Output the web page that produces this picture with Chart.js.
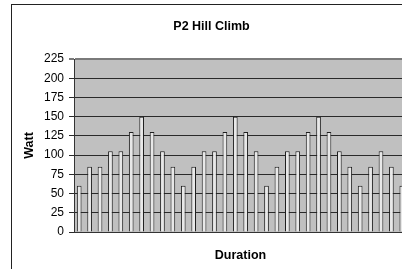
<!DOCTYPE html>
<html>
<head>
<meta charset="utf-8">
<script src="https://cdn.jsdelivr.net/npm/chart.js@4/dist/chart.umd.min.js"></script>
<style>
  html, body { margin: 0; padding: 0; background: #fff; overflow: hidden; }
  body { width: 402px; height: 269px; position: relative; }
  #frame { position: absolute; left: 11px; top: 4px; width: 500px; height: 400px; border: 1px solid #222; }
  #hillChart { position: absolute; left: 0; top: 0; }
</style>
</head>
<body>
<div id="frame"></div>
<canvas id="hillChart" width="412" height="275"></canvas>
<script>
const durations = ['1', '2', '3', '4', '5', '6', '7', '8', '9', '10', '11', '12', '13', '14', '15', '16',
  '17', '18', '19', '20', '21', '22', '23', '24', '25', '26', '27', '28', '29', '30', '31', '32'];
const watts = [60, 85, 85, 105, 105, 130, 150, 130, 105, 85, 60, 85, 105, 105, 130, 150,
  130, 105, 60, 85, 105, 105, 130, 150, 130, 105, 85, 60, 85, 105, 85, 60];
const wattTicks = [0, 25, 50, 75, 100, 125, 150, 175, 200, 225];

// grey plot area like the old Excel charts
const plotBackground = {
  id: 'plotBackground',
  beforeDraw(chart) {
    const { ctx, chartArea } = chart;
    ctx.save();
    ctx.fillStyle = '#c0c0c0';
    ctx.fillRect(chartArea.left, chartArea.top, chartArea.right - chartArea.left, chartArea.bottom - chartArea.top);
    ctx.restore();
  }
};

window.addEventListener('DOMContentLoaded', () => {
  Chart.defaults.font.family = '"Liberation Sans", Arial, sans-serif';
  Chart.defaults.color = '#000';

  new Chart(document.getElementById('hillChart'), {
    type: 'bar',
    data: {
      labels: durations,
      datasets: [{
        label: 'Watt',
        data: watts,
        backgroundColor: '#e8e8e8',
        borderColor: '#1e1e1e',
        borderWidth: 1,
        categoryPercentage: 1,
        barPercentage: 0.45
      }]
    },
    options: {
      responsive: false,
      animation: false,
      devicePixelRatio: 1,
      layout: { padding: { left: 16, right: 5, top: 0, bottom: 0 } },
      plugins: {
        legend: { display: false },
        tooltip: { enabled: false },
        title: {
          display: true,
          text: 'P2 Hill Climb',
          font: { size: 12.5, weight: 'bold' },
          padding: { top: 19, bottom: 25 }
        }
      },
      scales: {
        x: {
          grid: { display: false },
          border: { display: true, color: '#333', width: 1 },
          ticks: { display: false },
          title: {
            display: true,
            text: 'Duration',
            font: { size: 12.5, weight: 'bold' },
            padding: { top: 0, bottom: 12 }
          },
          afterFit(axis) { axis.height = 43; }
        },
        y: {
          min: 0,
          max: 225,
          afterBuildTicks(axis) { axis.ticks = wattTicks.map(v => ({ value: v })); },
          grid: {
            color: (c) => (c.tick && c.tick.value === 225 ? '#7a7a7a' : '#2a2a2a'),
            lineWidth: (c) => (c.tick && c.tick.value === 225 ? 2 : 1),
            tickLength: 5
          },
          border: { display: true, color: '#333', width: 1 },
          ticks: { font: { size: 12 }, padding: 5 },
          title: {
            display: true,
            text: 'Watt',
            font: { size: 12.5, weight: 'bold' },
            padding: { top: 6.5, bottom: 0 }
          },
          afterFit(axis) { axis.width = 58; }
        }
      }
    },
    plugins: [plotBackground]
  });
});
</script>
</body>
</html>
